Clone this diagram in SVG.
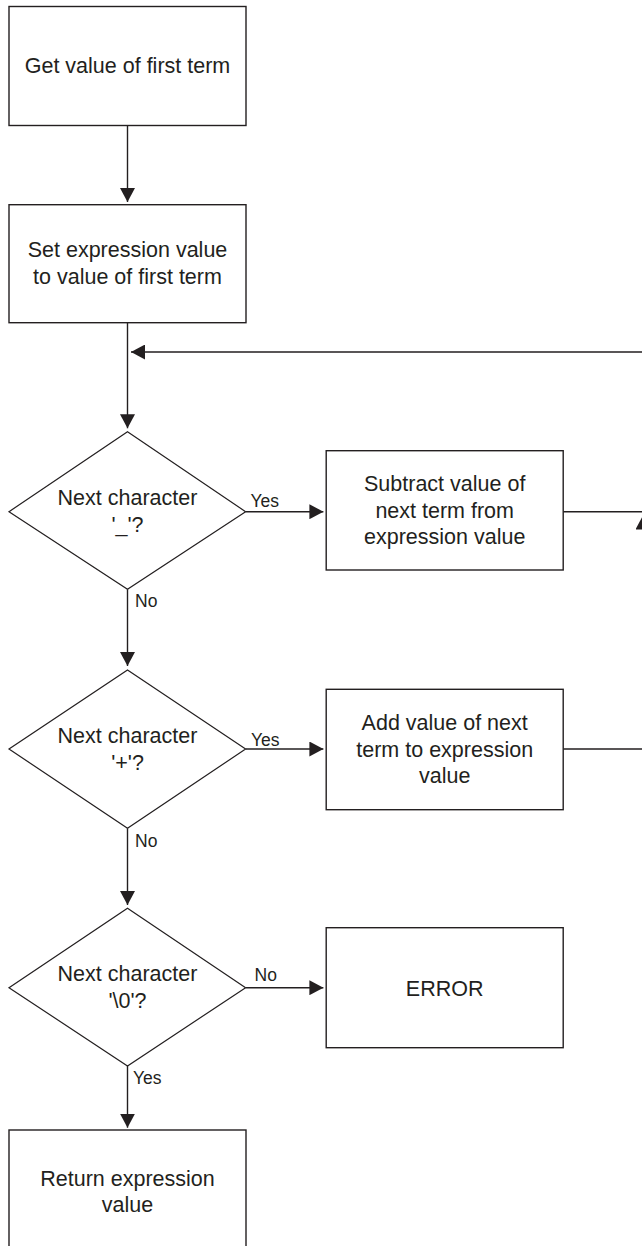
<svg xmlns="http://www.w3.org/2000/svg" width="642" height="1246" viewBox="0 0 642 1246">
  <defs>
    <style>
      .box { fill: #ffffff; stroke: #231f20; stroke-width: 1.4; }
      .dia { fill: #ffffff; stroke: #231f20; stroke-width: 1.2; }
      .wire { fill: none; stroke: #231f20; stroke-width: 1.4; marker-end: url(#head); }
      .wire-plain { fill: none; stroke: #231f20; stroke-width: 1.4; }
      .t { font-family: "Liberation Sans", Arial, sans-serif; font-size: 21.5px; fill: #231f20; text-anchor: middle; }
      .lbl { font-family: "Liberation Sans", Arial, sans-serif; font-size: 17.5px; fill: #231f20; }
    </style>
    <marker id="head" viewBox="0 0 14 15" refX="14" refY="7.5" markerWidth="14" markerHeight="15" markerUnits="userSpaceOnUse" orient="auto">
      <path d="M0,0 L14,7.5 L0,15 z" fill="#231f20"/>
    </marker>
  </defs>

  <!-- connectors -->
  <g id="connectors">
    <path class="wire" d="M127.5,125.5 V202"/>
    <path class="wire" d="M127.5,322.7 V428.3"/>
    <path class="wire" d="M245.6,511.7 H323.4"/>
    <path class="wire" d="M127.5,589.3 V666"/>
    <path class="wire" d="M245.6,749 H323.4"/>
    <path class="wire" d="M127.5,828.3 V905"/>
    <path class="wire" d="M245.6,987.7 H323.4"/>
    <path class="wire" d="M127.5,1066 V1127.7"/>
    <!-- loop back from the subtract / add steps -->
    <path class="wire" d="M563.2,511.7 H643 V352 H131"/>
    <path class="wire" d="M563.2,749 H643 V515.5"/>
    <!-- branch labels -->
    <text class="lbl" x="250.5" y="506.7">Yes</text>
    <text class="lbl" x="135" y="606.7">No</text>
    <text class="lbl" x="251" y="746">Yes</text>
    <text class="lbl" x="135" y="846.7">No</text>
    <text class="lbl" x="254.5" y="981">No</text>
    <text class="lbl" x="133" y="1084">Yes</text>
  </g>

  <g id="get-first-term">
    <rect class="box" x="9" y="6.5" width="237" height="119"/>
    <text class="t" x="127.5" y="72.7">Get value of first term</text>
  </g>

  <g id="set-expression">
    <rect class="box" x="9" y="204.7" width="237" height="118"/>
    <text class="t" x="127.5" y="257.3">Set expression value</text>
    <text class="t" x="127.5" y="284">to value of first term</text>
  </g>

  <g id="check-minus">
    <polygon class="dia" points="127.5,431.7 245.6,511.7 127.5,589.3 9,511.7"/>
    <text class="t" x="127.5" y="505">Next character</text>
    <text class="t" x="127.5" y="532">'_'?</text>
  </g>

  <g id="subtract-term">
    <rect class="box" x="326.2" y="450.7" width="237" height="119.3"/>
    <text class="t" x="444.7" y="491">Subtract value of</text>
    <text class="t" x="444.7" y="517.7">next term from</text>
    <text class="t" x="444.7" y="544.3">expression value</text>
  </g>

  <g id="check-plus">
    <polygon class="dia" points="127.5,670 245.6,749 127.5,828.3 9,749"/>
    <text class="t" x="127.5" y="743.3">Next character</text>
    <text class="t" x="127.5" y="770">'+'?</text>
  </g>

  <g id="add-term">
    <rect class="box" x="326.2" y="689.3" width="237" height="120.4"/>
    <text class="t" x="444.7" y="730">Add value of next</text>
    <text class="t" x="444.7" y="756.7">term to expression</text>
    <text class="t" x="444.7" y="783.3">value</text>
  </g>

  <g id="check-end">
    <polygon class="dia" points="127.5,908.3 245.6,987.7 127.5,1066 9,987.7"/>
    <text class="t" x="127.5" y="981">Next character</text>
    <text class="t" x="127.5" y="1008.3">'\0'?</text>
  </g>

  <g id="error">
    <rect class="box" x="326.2" y="927.7" width="237" height="120"/>
    <text class="t" x="444.7" y="995.7">ERROR</text>
  </g>

  <g id="return-value">
    <rect class="box" x="9" y="1130" width="237" height="119"/>
    <text class="t" x="127.5" y="1185.7">Return expression</text>
    <text class="t" x="127.5" y="1211.7">value</text>
  </g>
</svg>
